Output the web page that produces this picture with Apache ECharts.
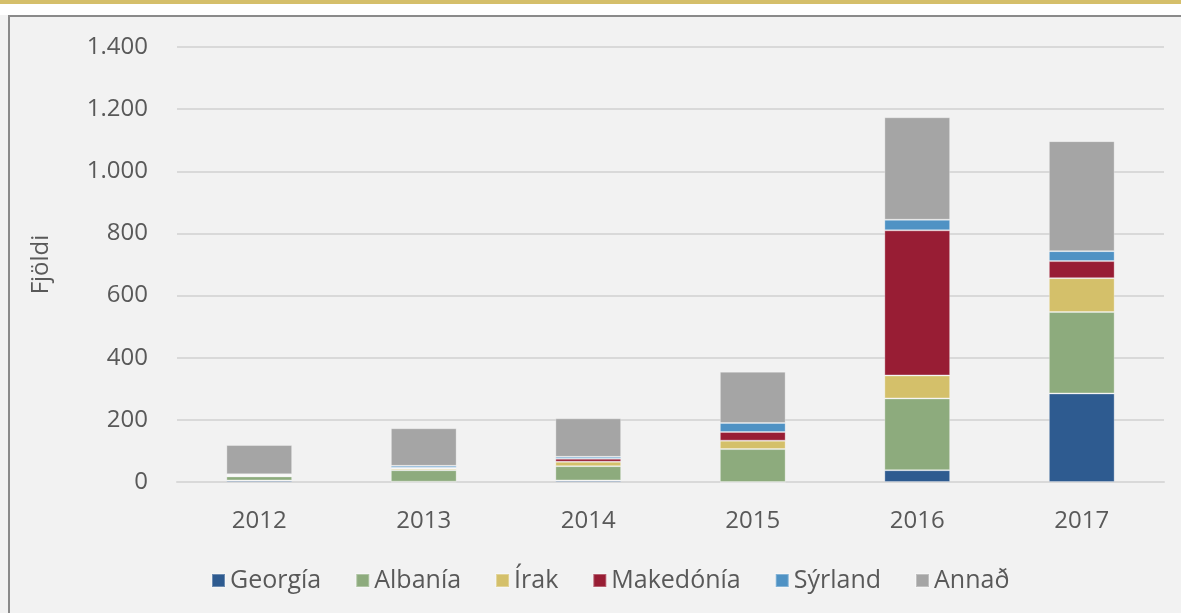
<!DOCTYPE html>
<html>
<head>
<meta charset="utf-8">
<script src="https://cdn.jsdelivr.net/npm/echarts@6/dist/echarts.min.js"></script>
<style>
  html, body { margin: 0; padding: 0; background: #f2f2f2; }
  #bar { width: 1181px; height: 613px; }
</style>
</head>
<body>
<div id="bar"></div>
<script>
// gögn
const years = ['2012', '2013', '2014', '2015', '2016', '2017']
const yTicks = [0, 200, 400, 600, 800, 1000, 1200, 1400]
const georgia = [5, 1, 5, 0, 38, 285]
const albania = [13, 37, 46, 106, 231, 262]
const irak = [3, 5, 14, 27, 74, 109]
const makedonia = [1, 3, 10, 28, 467, 55]
const syrland = [3, 6, 6, 29, 34, 32]
const annad = [94, 121, 124, 165, 330, 354]

const names = ['Georgía', 'Albanía', 'Írak', 'Makedónía', 'Sýrland', 'Annað']
const values = [georgia, albania, irak, makedonia, syrland, annad]
const colors = ['#2e5b90', '#8dab7d', '#d4c06a', '#981d34', '#4f92c4', '#a5a5a5']

const font = 'Open Sans'
const txt = '#595959'
const fs = 24

let myChart = echarts.init(document.getElementById('bar'))

let opt = {
  backgroundColor: '#f2f2f2',
  animation: false,
  color: colors,
  textStyle: { fontFamily: font },
  // ramminn efst
  graphic: [
    { type: 'rect', left: 0, top: 0, shape: { width: 1181, height: 4 }, style: { fill: '#d5bf6b' } },
    { type: 'rect', left: 0, top: 4, shape: { width: 1181, height: 11 }, style: { fill: '#ffffff' } },
    { type: 'line', shape: { x1: 8, y1: 16, x2: 1181, y2: 16 }, style: { stroke: '#8a8a8a', lineWidth: 2 } },
    { type: 'line', shape: { x1: 9, y1: 15, x2: 9, y2: 613 }, style: { stroke: '#8a8a8a', lineWidth: 2 } }
  ],
  grid: { left: 177, right: 17, top: 47, bottom: 131 },
  legend: {
    data: names,
    left: 206,
    top: 563,
    icon: 'rect',
    itemWidth: 13,
    itemHeight: 13,
    itemGap: 34,
    itemTextGap: 9,
    textStyle: { fontFamily: font, fontSize: 25, color: txt }
  },
  xAxis: {
    type: 'category',
    data: years,
    axisLine: { lineStyle: { color: '#d9d9d9', width: 2 } },
    axisTick: { show: false },
    axisLabel: { fontFamily: font, fontSize: fs, color: txt, margin: 27 }
  },
  yAxis: {
    type: 'value',
    min: yTicks[0],
    max: yTicks[yTicks.length - 1],
    interval: 200,
    name: 'Fjöldi',
    nameLocation: 'middle',
    nameGap: 124,
    nameTextStyle: { fontFamily: font, fontSize: fs, color: txt },
    axisLabel: {
      fontFamily: font, fontSize: fs, color: txt, margin: 29,
      formatter: v => v.toString().replace(/\B(?=(\d{3})+(?!\d))/g, '.')
    },
    splitLine: { lineStyle: { color: '#d9d9d9', width: 2 } }
  },
  series: names.map((n, i) => ({
    name: n,
    type: 'bar',
    stack: 'alls',
    barWidth: '40%',
    itemStyle: { borderColor: 'rgba(255,255,255,0.3)', borderWidth: 1 },
    data: values[i]
  }))
}

myChart.setOption(opt)
</script>
</body>
</html>
